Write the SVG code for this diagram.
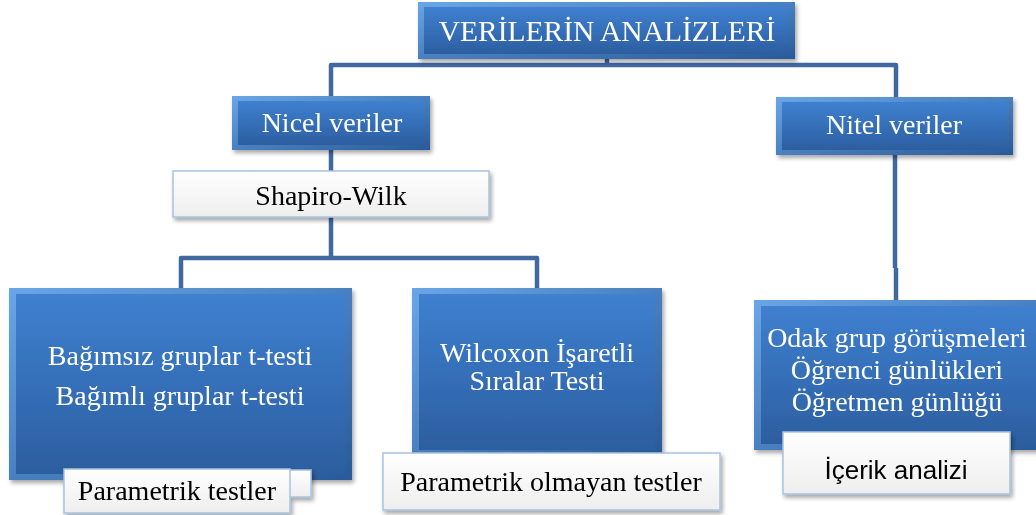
<svg xmlns="http://www.w3.org/2000/svg" width="1036" height="515" viewBox="0 0 1036 515">
<defs>
<linearGradient id="blue" x1="0" y1="0" x2="0" y2="1">
<stop offset="0" stop-color="#3f80cf"/>
<stop offset="0.5" stop-color="#356fb9"/>
<stop offset="1" stop-color="#2c5e9f"/>
</linearGradient>
<linearGradient id="bevel" x1="0" y1="0" x2="1" y2="1">
<stop offset="0" stop-color="#6aa6e6"/>
<stop offset="1" stop-color="#295a99"/>
</linearGradient>
<linearGradient id="white" x1="0" y1="0" x2="0" y2="1">
<stop offset="0" stop-color="#ffffff"/>
<stop offset="1" stop-color="#eeeeee"/>
</linearGradient>
<filter id="sh" x="-10%" y="-10%" width="125%" height="135%">
<feDropShadow dx="2" dy="3" stdDeviation="2" flood-color="#000" flood-opacity="0.35"/>
</filter>
</defs>
<style>
.outer{fill:url(#bevel);}
.inner{fill:url(#blue);}
.lbl{fill:url(#white);stroke:#a9c2e2;stroke-width:1.5;}
.wt{font-family:"Liberation Serif",serif;fill:#ffffff;text-anchor:middle;}
.bt{font-family:"Liberation Serif",serif;fill:#000000;text-anchor:middle;}
.st{font-family:"Liberation Sans",sans-serif;fill:#000000;text-anchor:middle;}
.con{fill:none;stroke:#41689f;stroke-width:4.5;stroke-linejoin:round;}
</style>
<g id="connectors">
<path class="con" d="M607 58 V65"/>
<path class="con" d="M331 97 V65 H896 V98"/>
<path class="con" d="M331 150 V171"/>
<path class="con" d="M331 216 V258 M181 289 V258 H537 V289"/>
<path class="con" d="M895 155 V268 M896 268 V301"/>
</g>
<g id="n-top" filter="url(#sh)">
<rect class="outer" x="418" y="2" width="377" height="57"/>
<rect class="inner" x="424" y="7" width="365" height="47"/>
<text class="wt" x="607" y="41" font-size="29.5">VERİLERİN ANALİZLERİ</text>
</g>
<g id="n-nicel" filter="url(#sh)">
<rect class="outer" x="232" y="96" width="198" height="54"/>
<rect class="inner" x="238" y="101" width="186" height="44"/>
<text class="wt" x="332" y="132" font-size="28">Nicel veriler</text>
</g>
<g id="n-nitel" filter="url(#sh)">
<rect class="outer" x="776" y="97" width="237" height="58"/>
<rect class="inner" x="782" y="102" width="225" height="48"/>
<text class="wt" x="894" y="134" font-size="28">Nitel veriler</text>
</g>
<g id="n-shapiro" filter="url(#sh)">
<rect class="lbl" x="173" y="171" width="316" height="46"/>
<text class="bt" x="331" y="205" font-size="28">Shapiro-Wilk</text>
</g>
<g id="n-param" filter="url(#sh)">
<rect class="outer" x="9" y="288" width="343" height="192"/>
<rect class="inner" x="16" y="294" width="329" height="180"/>
<text class="wt" x="180" y="365" font-size="28">Bağımsız gruplar t-testi</text>
<text class="wt" x="180" y="405" font-size="28">Bağımlı gruplar t-testi</text>
</g>
<g id="n-param-label" filter="url(#sh)">
<rect class="lbl" x="70" y="470" width="241" height="27"/>
<rect class="lbl" x="64" y="469" width="226" height="44"/>
<text class="bt" x="177" y="500" font-size="28">Parametrik testler</text>
</g>
<g id="n-nonparam" filter="url(#sh)">
<rect class="outer" x="412" y="288" width="250" height="168"/>
<rect class="inner" x="419" y="294" width="236" height="156"/>
<text class="wt" x="537" y="362" font-size="28">Wilcoxon İşaretli</text>
<text class="wt" x="537" y="390" font-size="28">Sıralar Testi</text>
</g>
<g id="n-nonparam-label" filter="url(#sh)">
<rect class="lbl" x="383" y="453" width="337" height="57"/>
<text class="bt" x="551" y="491" font-size="28">Parametrik olmayan testler</text>
</g>
<g id="n-nitel-detail" filter="url(#sh)">
<rect class="outer" x="754" y="300" width="290" height="150"/>
<rect class="inner" x="761" y="306" width="276" height="138"/>
<text class="wt" x="897" y="347" font-size="28">Odak grup görüşmeleri</text>
<text class="wt" x="897" y="379" font-size="28">Öğrenci günlükleri</text>
<text class="wt" x="897" y="411" font-size="28">Öğretmen günlüğü</text>
</g>
<g id="n-icerik" filter="url(#sh)">
<rect class="lbl" x="783" y="432" width="227" height="62"/>
<text class="st" x="896" y="479" font-size="26">İçerik analizi</text>
</g>
</svg>
